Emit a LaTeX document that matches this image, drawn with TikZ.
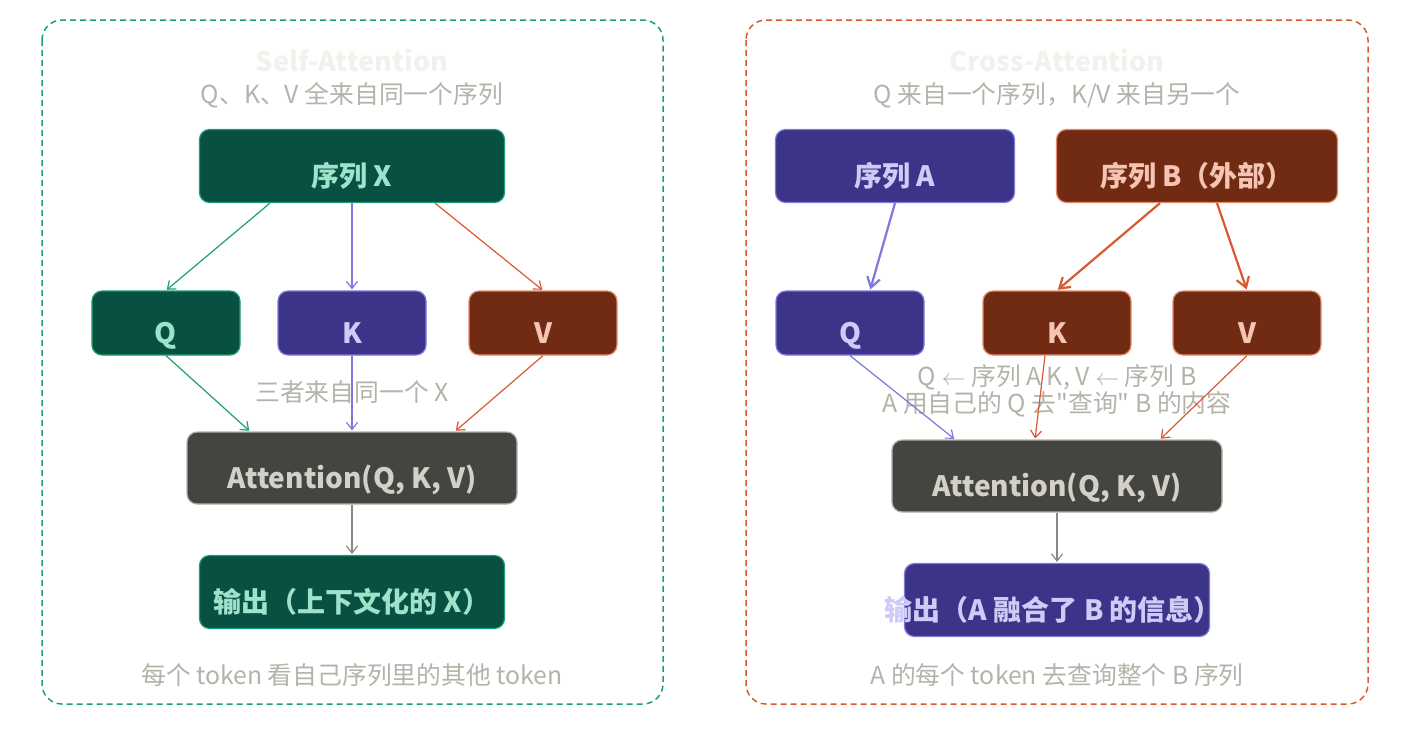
\documentclass[tikz,border=0pt]{standalone}
\usepackage{fontspec}
\setmainfont{Noto Sans CJK SC}[Ligatures=TeXOff]
\usepackage{tikz}
\usetikzlibrary{positioning, arrows.meta}

\definecolor{grnfill}{HTML}{085041}
\definecolor{grnline}{HTML}{1D9E75}
\definecolor{grntext}{HTML}{9FE1CB}
\definecolor{purfill}{HTML}{3C3489}
\definecolor{purline}{HTML}{7F77DD}
\definecolor{purtext}{HTML}{CECBF6}
\definecolor{brnfill}{HTML}{712B13}
\definecolor{brnline}{HTML}{D85A30}
\definecolor{brntext}{HTML}{F5C4B3}
\definecolor{gryfill}{HTML}{444441}
\definecolor{gryline}{HTML}{B4B2A9}
\definecolor{grytext}{HTML}{D3D1C7}
\definecolor{arrgray}{HTML}{888780}
\definecolor{notetext}{HTML}{B4B2A9}
\definecolor{titletext}{HTML}{F3F1EC}

\begin{document}
\begin{tikzpicture}[
		x=0.5pt, y=-0.5pt,
		box/.style={rectangle, rounded corners=5pt, line width=0.6pt, inner sep=0pt, align=center,
			font=\fontsize{14}{16}\selectfont\bfseries, text height=20pt, text depth=0pt},
		grnbox/.style={box, fill=grnfill, draw=grnline, text=grntext},
		purbox/.style={box, fill=purfill, draw=purline, text=purtext},
		brnbox/.style={box, fill=brnfill, draw=brnline!70!white, text=brntext},
		grybox/.style={box, fill=gryfill, draw=gryline, text=grytext},
		widebox/.style={minimum width=152.5pt, minimum height=36.5pt},
		smallbox/.style={minimum width=74pt, minimum height=32pt},
		attbox/.style={minimum width=165pt, minimum height=36pt},
		panel/.style={rectangle, rounded corners=10pt, line width=0.75pt, dash pattern=on 3pt off 2pt},
		note/.style={text=notetext, font=\fontsize{12.4}{14}\selectfont},
		headline/.style={text=titletext, font=\fontsize{13.5}{16}\selectfont\bfseries},
		arrow/.style={-{Straight Barb[length=3.5pt, width=5.5pt]}, line width=0.6pt, shorten >=0.5pt},
		thickarrow/.style={-{Straight Barb[length=5pt, width=6.5pt]}, line width=1.1pt, shorten >=0.5pt}
		]

		\useasboundingbox (0,0) rectangle (1410,746);

		% panels
		\draw[panel, draw=grnline] (42,20) rectangle (663,704);
		\draw[panel, draw=brnline] (746,20) rectangle (1368,704);

		% self-attention
		\node[headline] (selftitle) at (352,60) {Self-Attention};
		\node[note] (selfsub) at (352,95) {Q、K、V 全来自同一个序列};

		\node[grnbox, widebox] (seqx) at (352,166) {序列 X};
		\node[grnbox, smallbox] (qL) at (166,323) {Q};
		\node[purbox, smallbox] (kL) at (352,323) {K};
		\node[brnbox, smallbox] (vL) at (543,323) {V};
		\node[note] (selfnote) at (352,392) {三者来自同一个 X};
		\node[grybox, attbox] (attL) at (352,468) {Attention(Q, K, V)};
		\node[grnbox, widebox] (outL) at (352,592) {输出（上下文化的 X）};
		\node[note] (selfbottom) at (352,675) {每个 token 看自己序列里的其他 token};

		\draw[arrow, grnline] ([xshift=-41pt]seqx.south) -- (qL.north);
		\draw[arrow, purline] (seqx.south) -- (kL.north);
		\draw[arrow, brnline] ([xshift=41.5pt]seqx.south) -- (vL.north);
		\draw[arrow, grnline] (qL.south) -- ([xshift=-51pt]attL.north);
		\draw[arrow, purline] (kL.south) -- (attL.north);
		\draw[arrow, brnline] (vL.south) -- ([xshift=51.5pt]attL.north);
		\draw[arrow, arrgray] (attL.south) -- (outL.north);

		% cross-attention
		\node[headline] (crosstitle) at (1057,60) {Cross-Attention};
		\node[note] (crosssub) at (1057,95) {Q 来自一个序列，K/V 来自另一个};

		\node[purbox, minimum width=119.5pt, minimum height=36.5pt] (seqa) at (895,166) {序列 A};
		\node[brnbox, minimum width=140.5pt, minimum height=36.5pt] (seqb) at (1197,166) {序列 B（外部）};
		\node[purbox, smallbox] (qR) at (850,323) {Q};
		\node[brnbox, smallbox] (kR) at (1057,323) {K};
		\node[brnbox, smallbox] (vR) at (1247,323) {V};
		\node[note, align=center] (crossnote) at (1057,391) {Q $\leftarrow$ 序列 A K, V $\leftarrow$ 序列 B\\[-0.5pt]A 用自己的 Q 去"查询" B 的内容};
		\node[grybox, attbox] (attR) at (1057,476) {Attention(Q, K, V)};
		\node[purbox, widebox, inner xsep=0pt] (outR) at (1057,600) {\makebox[151pt][r]{输出（A 融合了 B 的信息）\kern-7pt}};
		\node[note] (crossbottom) at (1057,675) {A 的每个 token 去查询整个 B 序列};

		\draw[thickarrow, purline] (seqa.south) -- ([xshift=10pt]qR.north);
		\draw[thickarrow, brnline] ([xshift=-18.5pt]seqb.south) -- (kR.north);
		\draw[thickarrow, brnline] ([xshift=10pt]seqb.south) -- (vR.north);
		\draw[arrow, purline] (qR.south) -- ([xshift=-51pt]attR.north);
		\draw[arrow, brnline] ([xshift=-6pt]kR.south) -- ([xshift=-11pt]attR.north);
		\draw[arrow, brnline] (vR.south) -- ([xshift=51.5pt]attR.north);
		\draw[arrow, arrgray] (attR.south) -- (outR.north);
	\end{tikzpicture}
\end{document}
